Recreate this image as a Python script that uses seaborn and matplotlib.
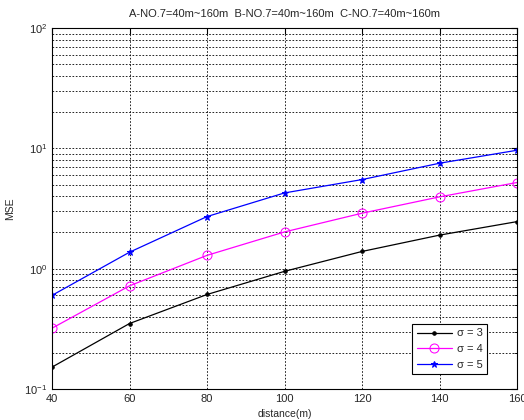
import matplotlib
matplotlib.use("Agg")
import matplotlib.pyplot as plt
import seaborn as sns
import pandas as pd
import numpy as np
from matplotlib.ticker import LogLocator, FixedLocator

distance = [40, 60, 80, 100, 120, 140, 160]
mse_s3 = [0.152, 0.35, 0.61, 0.95, 1.39, 1.90, 2.46]
mse_s4 = [0.32, 0.72, 1.29, 2.02, 2.89, 3.95, 5.2]
mse_s5 = [0.60, 1.37, 2.71, 4.26, 5.5, 7.52, 9.64]
labels = ["σ = 3", "σ = 4", "σ = 5"]
title = "A-NO.7=40m~160m  B-NO.7=40m~160m  C-NO.7=40m~160m"

sns.set_style("white")
plt.rcParams['font.family'] = ['Liberation Sans', 'DejaVu Sans']
plt.rcParams['mathtext.fontset'] = 'custom'
plt.rcParams['mathtext.rm'] = 'Liberation Sans'
plt.rcParams['mathtext.it'] = 'Liberation Sans'

df = pd.DataFrame({
    "distance": distance * 3,
    "mse": mse_s3 + mse_s4 + mse_s5,
    "series": [labels[0]] * 7 + [labels[1]] * 7 + [labels[2]] * 7,
})

fig = plt.figure(figsize=(5.24, 4.2), dpi=100)
ax = fig.add_axes([52/524, 1 - 389/420, (517-52)/524, (389-28)/420])

colors = {labels[0]: "black", labels[1]: "magenta", labels[2]: "blue"}
markers = {labels[0]: ".", labels[1]: "o", labels[2]: "*"}
sizes = {labels[0]: 5, labels[1]: 6.5, labels[2]: 5}
for lab in labels:
    sub = df[df.series == lab]
    mk = markers[lab]
    kw = dict(markerfacecolor="none") if mk == "o" else {}
    sns.lineplot(data=sub, x="distance", y="mse", ax=ax, color=colors[lab],
                 marker=mk, markersize=sizes[lab], label=lab, linewidth=0.9,
                 markeredgecolor=colors[lab], **kw)

ax.set_yscale("log")
ax.set_xlim(40, 160)
ax.set_ylim(0.1, 100)
ax.xaxis.set_major_locator(FixedLocator([40, 60, 80, 100, 120, 140, 160]))
ax.yaxis.set_major_locator(LogLocator(base=10, numticks=10))
ax.yaxis.set_minor_locator(LogLocator(base=10, subs=np.arange(2, 10), numticks=20))

ax.grid(True, which="major", axis="both", color="black", linestyle=(0, (2, 2)), linewidth=0.6)
ax.grid(True, which="minor", axis="y", color="black", linestyle=(0, (2, 2)), linewidth=0.6)

ax.tick_params(axis="both", which="both", direction="in", top=True, right=True,
               labelsize=8, color="black", length=4)
ax.tick_params(axis="y", which="minor", length=2)
for s in ax.spines.values():
    s.set_color("black")
    s.set_linewidth(0.8)

ax.set_xlabel("distance(m)", fontsize=7.5, labelpad=4)
ax.set_ylabel("MSE", fontsize=7.5)
ax.yaxis.set_label_coords(-0.08, 0.5)
ax.set_title(title, fontsize=8, pad=8)

leg = ax.legend(loc="lower right", bbox_to_anchor=(487/524, 1 - 374/420), bbox_transform=fig.transFigure,
                fontsize=8, frameon=True, fancybox=False, edgecolor="black", framealpha=1,
                borderpad=0.4, labelspacing=0.5, handlelength=3.2, handletextpad=0.4, borderaxespad=0)
leg.get_frame().set_linewidth(0.8)

fig.savefig("out.png", dpi=100)
